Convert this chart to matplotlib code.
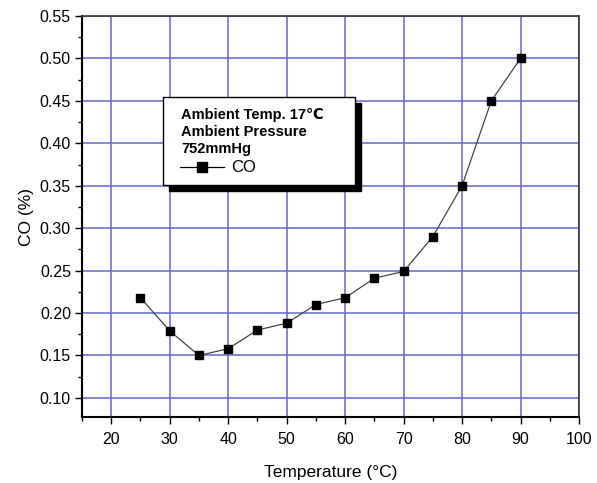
import matplotlib
matplotlib.use("Agg")
import matplotlib.pyplot as plt
from matplotlib.patches import Rectangle
from matplotlib.lines import Line2D
from matplotlib.ticker import MultipleLocator

temperature = [25, 30, 35, 40, 45, 50, 55, 60, 65, 70, 75, 80, 85, 90]
co_percent = [0.218, 0.179, 0.150, 0.158, 0.180, 0.188, 0.210, 0.218, 0.241, 0.249, 0.290, 0.350, 0.450, 0.500]
legend_lines = ["Ambient Temp. 17\u2103", "Ambient Pressure", "752mmHg"]
series_name = "CO"

plt.rcParams['font.family'] = ['Liberation Sans', 'DejaVu Sans']

fig = plt.figure(figsize=(5.97, 4.83), dpi=100)
ax = fig.add_axes([82/597, 66/483, 497/597, 401/483])

ax.plot(temperature, co_percent, color='#444444', lw=0.9, marker='s',
        markersize=6, markerfacecolor='black', markeredgecolor='black', zorder=3)

ax.set_xlim(15, 100)
ax.set_ylim(0.0775, 0.55)
ax.xaxis.set_major_locator(MultipleLocator(10))
ax.xaxis.set_minor_locator(MultipleLocator(5))
ax.yaxis.set_major_locator(MultipleLocator(0.05))
ax.yaxis.set_minor_locator(MultipleLocator(0.025))
ax.yaxis.set_major_formatter(matplotlib.ticker.FormatStrFormatter('%.2f'))
ax.grid(True, which='major', color='#6464c8', lw=1.1)
ax.set_axisbelow(True)
ax.tick_params(which='major', direction='out', length=5, width=1, labelsize=11.5)
ax.tick_params(axis='x', which='major', pad=6)
ax.tick_params(axis='y', which='major', pad=3)
ax.tick_params(which='minor', direction='out', length=3, width=1)
for s in ['left', 'bottom']:
    ax.spines[s].set_linewidth(1.5)
for s in ['top', 'right']:
    ax.spines[s].set_linewidth(1.2)
    ax.spines[s].set_color('#333333')

ax.set_xlabel("Temperature (\u00b0C)", fontsize=12.5, labelpad=13)
ax.set_ylabel("CO (%)", fontsize=12.5, labelpad=4)

# custom legend box with shadow (axes fraction coords)
def fx(px):
    return (px - 82) / 497
def fy(py):
    return (417 - py) / 401

bx0, bx1, by0, by1 = fx(163), fx(355), fy(185), fy(97)
dx, dy = 6/497, 6/401
ax.add_patch(Rectangle((bx0 + dx, by0 - dy), bx1 - bx0, by1 - by0, transform=ax.transAxes,
                       facecolor='black', edgecolor='black', zorder=5))
ax.add_patch(Rectangle((bx0, by0), bx1 - bx0, by1 - by0, transform=ax.transAxes,
                       facecolor='white', edgecolor='black', lw=1, zorder=6))
for i, t in enumerate(legend_lines):
    ax.text(fx(181), fy(115 + 17*i), t, transform=ax.transAxes, fontsize=10.5,
            fontweight='bold', va='center', ha='left', zorder=7)
ly = fy(167)
ax.add_line(Line2D([fx(180), fx(224)], [ly, ly], transform=ax.transAxes, color='black', lw=0.9, zorder=7))
ax.add_line(Line2D([fx(202)], [ly], transform=ax.transAxes, marker='s', markersize=7,
                   color='black', zorder=8))
ax.text(fx(231), ly, series_name, transform=ax.transAxes, fontsize=12, va='center', ha='left', zorder=7)

fig.savefig("out.png", dpi=100)
